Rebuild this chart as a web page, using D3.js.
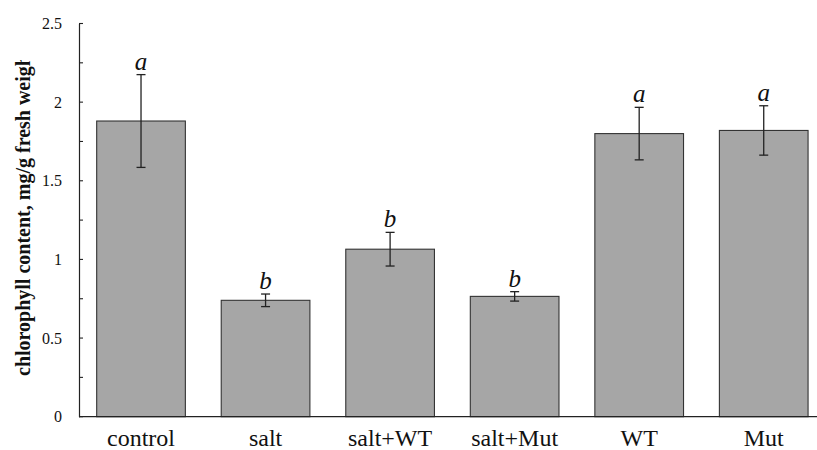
<!DOCTYPE html>
<html>
<head>
<meta charset="utf-8">
<script src="https://cdn.jsdelivr.net/npm/d3@7"></script>
<style>
  html, body { margin: 0; padding: 0; background: #fff; }
  svg { display: block; }
  text { font-family: "Liberation Serif", "DejaVu Serif", "Times New Roman", serif; }
</style>
</head>
<body>
<svg id="chart" width="817" height="450"></svg>
<script>
const categories = ["control", "salt", "salt+WT", "salt+Mut", "WT", "Mut"];
const means = [1.88, 0.74, 1.065, 0.765, 1.80, 1.82];
const errors = [0.295, 0.04, 0.107, 0.03, 0.167, 0.157];
const letters = ["a", "b", "b", "b", "a", "a"];
const yTicks = [0, 0.5, 1, 1.5, 2, 2.5];
const yMinorTicks = [0.25, 0.75, 1.25, 1.75, 2.25];
const yLabel = "chlorophyll content, mg/g fresh weight";

const svg = d3.select("#chart");
const x0 = 79, xEnd = 826, yTop = 23.5, yBottom = 416.7;

const x = d3.scaleBand().domain(categories).range([x0 - 0.25, xEnd])
  .paddingInner(0.288).paddingOuter(0.144);
const y = d3.scaleLinear().domain([0, 2.5]).range([yBottom, yTop]);

const serif = "Liberation Serif, DejaVu Serif, Times New Roman, serif";

// bars
svg.append("g").selectAll("rect").data(categories).join("rect")
  .attr("x", d => x(d))
  .attr("y", (d, i) => y(means[i]))
  .attr("width", x.bandwidth())
  .attr("height", (d, i) => y(0) - y(means[i]))
  .attr("fill", "#a6a6a6")
  .attr("stroke", "#333")
  .attr("stroke-width", 1.1);

// error bars
const eg = svg.append("g").attr("stroke", "#222").attr("stroke-width", 1.3);
categories.forEach((c, i) => {
  const cx = x(c) + x.bandwidth() / 2;
  const hi = y(means[i] + errors[i]), lo = y(means[i] - errors[i]);
  eg.append("line").attr("x1", cx).attr("x2", cx).attr("y1", hi).attr("y2", lo);
  eg.append("line").attr("x1", cx - 4.5).attr("x2", cx + 4.5).attr("y1", hi).attr("y2", hi);
  eg.append("line").attr("x1", cx - 4.5).attr("x2", cx + 4.5).attr("y1", lo).attr("y2", lo);
});

// significance letters
svg.append("g").selectAll("text").data(categories).join("text")
  .attr("x", d => x(d) + x.bandwidth() / 2)
  .attr("y", (d, i) => y(means[i] + errors[i]) - 5)
  .attr("text-anchor", "middle")
  .style("font-family", serif)
  .attr("font-style", "italic")
  .attr("font-size", 25)
  .attr("fill", "#111")
  .text((d, i) => letters[i]);

// y axis
const yAxis = d3.axisLeft(y).tickValues(yTicks).tickSize(0).tickPadding(17)
  .tickFormat(d3.format("~g"));
const ya = svg.append("g").attr("transform", `translate(${x0},0)`).call(yAxis);
ya.attr("font-family", null);
ya.select(".domain").attr("stroke", "#222").attr("stroke-width", 1.2);
ya.selectAll("text").style("font-family", serif).attr("font-size", 16).attr("fill", "#111");
// inward ticks (major + minor)
svg.append("g").selectAll("line").data(yTicks.concat(yMinorTicks)).join("line")
  .attr("x1", x0).attr("x2", x0 + 4)
  .attr("y1", d => y(d)).attr("y2", d => y(d))
  .attr("stroke", "#222").attr("stroke-width", 1.1);

// x axis
const xAxis = d3.axisBottom(x).tickSize(0).tickPadding(0);
const xa = svg.append("g").attr("transform", `translate(0,${yBottom})`).call(xAxis);
xa.attr("font-family", null);
xa.select(".domain").remove();
xa.selectAll("text").attr("dy", null).attr("y", 29)
  .style("font-family", serif).attr("font-size", 24).attr("fill", "#111");
svg.append("line").attr("x1", x0).attr("x2", 817).attr("y1", yBottom).attr("y2", yBottom)
  .attr("stroke", "#222").attr("stroke-width", 1.2);

// y label (clipped at top like the reference)
svg.append("clipPath").attr("id", "ylclip").append("rect")
  .attr("x", 0).attr("y", 60).attr("width", 60).attr("height", 390);
svg.append("g").attr("clip-path", "url(#ylclip)")
  .append("text")
  .attr("transform", "translate(30,376) rotate(-90)")
  .style("font-family", serif)
  .attr("font-weight", "bold")
  .attr("font-size", 20)
  .attr("fill", "#111")
  .text(yLabel);
</script>
</body>
</html>
